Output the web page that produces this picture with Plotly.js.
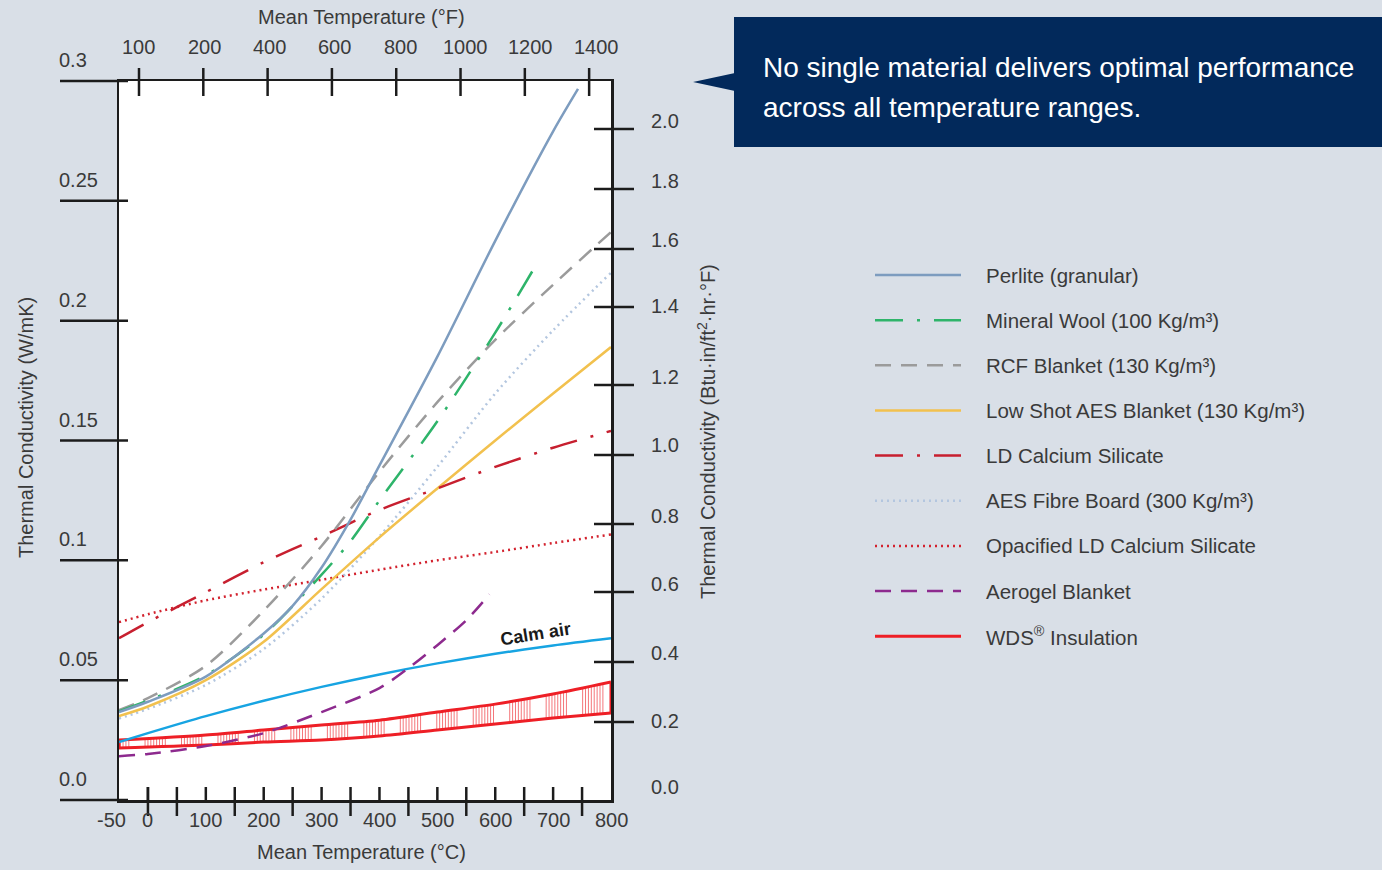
<!DOCTYPE html>
<html><head><meta charset="utf-8">
<script src="https://cdn.plot.ly/plotly-3.0.1.min.js"></script>
<style>html,body{margin:0;padding:0;background:#d9dfe7;} #chart{width:1382px;height:870px;}</style>
</head><body><div id="chart"></div>
<script>
// ---------------- DATA ----------------
const perliteT = [-50, 0, 100, 200, 250, 300, 350, 400, 500, 600, 700, 743];
const perliteK = [0.0367, 0.041, 0.0515, 0.0695, 0.081, 0.097, 0.117, 0.1396, 0.185, 0.2333, 0.279, 0.2967];

const mineralT = [-50, 0, 100, 200, 300, 350, 400, 500, 600, 665];
const mineralK = [0.037, 0.0415, 0.052, 0.069, 0.094, 0.108, 0.125, 0.158, 0.195, 0.221];

const rcfT = [-50, 0, 100, 200, 300, 400, 500, 600, 700, 800];
const rcfK = [0.0375, 0.0425, 0.056, 0.079, 0.106, 0.137, 0.166, 0.192, 0.215, 0.237];

const lowShotT = [-50, 0, 100, 200, 300, 400, 500, 600, 700, 800];
const lowShotK = [0.035, 0.039, 0.05, 0.066, 0.088, 0.1096, 0.13, 0.15, 0.1696, 0.189];

const ldCaSiT = [-50, 0, 100, 200, 300, 400, 500, 600, 700, 800];
const ldCaSiK = [0.0675, 0.0742, 0.0867, 0.0992, 0.110, 0.121, 0.130, 0.139, 0.147, 0.154];

const aesBoardT = [-50, 0, 100, 200, 300, 400, 500, 600, 700, 800];
const aesBoardK = [0.034, 0.038, 0.048, 0.063, 0.084, 0.110, 0.139, 0.1696, 0.196, 0.22];

const opacT = [-50, 0, 100, 200, 300, 400, 500, 600, 700, 800];
const opacK = [0.0742, 0.0775, 0.0833, 0.0878, 0.0919, 0.0961, 0.1000, 0.1035, 0.1072, 0.1108];

const aerogelT = [-50, 0, 100, 200, 300, 400, 450, 500, 550, 590];
const aerogelK = [0.0183, 0.0192, 0.0225, 0.0279, 0.0367, 0.0467, 0.055, 0.0646, 0.075, 0.0858];

const calmAirT = [-50, 0, 100, 200, 300, 400, 500, 600, 700, 800];
const calmAirK = [0.0242, 0.0279, 0.0350, 0.0414, 0.0472, 0.0524, 0.0570, 0.0610, 0.0645, 0.0675];

const wdsT = [-50, 100, 200, 300, 400, 500, 600, 700, 800];
const wdsUpper = [0.025, 0.0271, 0.0292, 0.0313, 0.0333, 0.0367, 0.040, 0.0442, 0.0492];
const wdsLower = [0.0217, 0.0229, 0.0242, 0.025, 0.0267, 0.0292, 0.0317, 0.0342, 0.0363];

const seriesNames = ['Perlite (granular)', 'Mineral Wool (100 Kg/m³)', 'RCF Blanket (130 Kg/m³)',
  'Low Shot AES Blanket (130 Kg/m³)', 'LD Calcium Silicate', 'AES Fibre Board (300 Kg/m³)',
  'Opacified LD Calcium Silicate', 'Aerogel Blanket', 'WDS<sup>®</sup> Insulation'];

const wmkTicks = [0, 0.05, 0.1, 0.15, 0.2, 0.25, 0.3];
const wmkLabels = ['0.0', '0.05', '0.1', '0.15', '0.2', '0.25', '0.3'];
const celsiusTicks = [-50, 0, 100, 200, 300, 400, 500, 600, 700, 800];
const fahrenheitLabels = ['100', '200', '400', '600', '800', '1000', '1200', '1400'];
const btuLabels = ['2.0', '1.8', '1.6', '1.4', '1.2', '1.0', '0.8', '0.6', '0.4', '0.2', '0.0'];
// the printed Btu scale is not linear: its ticks and labels, expressed on the W/mK axis
const btuTickPos = [0.2800, 0.2549, 0.2299, 0.2057, 0.1732, 0.1439, 0.1152, 0.0868, 0.0576, 0.0325];
const btuLabelPos = [0.2833, 0.2583, 0.2337, 0.2061, 0.1765, 0.1481, 0.1185, 0.0901, 0.0613, 0.0330, 0.0054];

const calloutLines = ['No single material delivers optimal performance', 'across all temperature ranges.'];

// ---------------- LAYOUT GEOMETRY ----------------
const W = 1382, H = 870, L = 119, R = 611, TOP = 81, BOT = 800;
const PW = R - L, PH = BOT - TOP;
const px2x = p => (p - L) / PW;
const px2y = p => (BOT - p) / PH;
const X_RANGE = [-50, 800], Y_RANGE = [0, 0.3];
const F_RANGE = [-0.311, 7.34]; // top (°F) scale, one step per printed label
const fIdx2paper = i => (i - F_RANGE[0]) / (F_RANGE[1] - F_RANGE[0]);
const y2paper = v => (v - Y_RANGE[0]) / (Y_RANGE[1] - Y_RANGE[0]);

const INK = '#1c1c1c', TXT = '#3a3a3a';
const FONT = 'Liberation Sans, Arial, sans-serif';

const styles = [
  {color: '#7d9cbf', dash: 'solid', width: 2.5},
  {color: '#2eb46a', dash: '28px,14px,3px,14px', width: 2.5},
  {color: '#9b9b9b', dash: '16px,10px', width: 2.5},
  {color: '#f2c14e', dash: 'solid', width: 2.5},
  {color: '#c71f2f', dash: '28px,14px,3px,14px', width: 2.5},
  {color: '#b3c6df', dash: '2px,4px', width: 2.5},
  {color: '#d3222e', dash: '2px,4px', width: 2.5},
  {color: '#8d2a8e', dash: '16px,10px', width: 2.5},
  {color: '#ee1f26', dash: 'solid', width: 3}
];

function lineTrace(x, y, st) {
  return {type: 'scatter', mode: 'lines', x: x, y: y, hoverinfo: 'skip', showlegend: false,
    line: {color: st.color, dash: st.dash, width: st.width, shape: 'spline', smoothing: 0.8}};
}

// hatching inside WDS band
function interp(xs, ys, t) {
  for (let i = 0; i < xs.length - 1; i++) {
    if (t >= xs[i] && t <= xs[i + 1]) {
      const f = (t - xs[i]) / (xs[i + 1] - xs[i]);
      return ys[i] + f * (ys[i + 1] - ys[i]);
    }
  }
  return null;
}
const hx = [], hy = [];
for (let g = -68; g < 800; g += 63) {
  for (let t = g; t <= g + 38; t += 5) {
    if (t <= -50 || t >= 800) continue;
    hx.push(t, t, null);
    hy.push(interp(wdsT, wdsLower, t), interp(wdsT, wdsUpper, t), null);
  }
}
const nW = wdsT.length - 1;

const traces = [
  {type: 'scatter', mode: 'lines', x: hx, y: hy, hoverinfo: 'skip', showlegend: false,
    line: {color: 'rgba(240,60,66,0.7)', width: 1}},
  lineTrace(wdsT, wdsUpper, styles[8]),
  lineTrace(wdsT, wdsLower, styles[8]),
  {type: 'scatter', mode: 'lines', hoverinfo: 'skip', showlegend: false,
    x: [wdsT[0], wdsT[0], null, wdsT[nW], wdsT[nW]],
    y: [wdsLower[0], wdsUpper[0], null, wdsLower[nW], wdsUpper[nW]],
    line: {color: styles[8].color, width: 3}},
  lineTrace(calmAirT, calmAirK, {color: '#17a4e2', dash: 'solid', width: 2.5}),
  lineTrace(aerogelT, aerogelK, styles[7]),
  lineTrace(opacT, opacK, styles[6]),
  lineTrace(aesBoardT, aesBoardK, styles[5]),
  lineTrace(lowShotT, lowShotK, styles[3]),
  lineTrace(ldCaSiT, ldCaSiK, styles[4]),
  lineTrace(rcfT, rcfK, styles[2]),
  lineTrace(mineralT, mineralK, styles[1]),
  lineTrace(perliteT, perliteK, styles[0])
];

// ---------------- SHAPES ----------------
const shapes = [];
const tickLine = {color: INK, width: 2.5};
// callout box
shapes.push({type: 'rect', xref: 'paper', yref: 'paper', x0: px2x(734), x1: px2x(1400), y0: px2y(147), y1: px2y(17),
  fillcolor: '#02295b', line: {width: 0}, layer: 'above'});
shapes.push({type: 'path', xref: 'paper', yref: 'paper', fillcolor: '#02295b', line: {width: 0},
  path: 'M' + px2x(735) + ',' + px2y(73) + ' L' + px2x(693) + ',' + px2y(82) + ' L' + px2x(735) + ',' + px2y(91) + ' Z'});
// left ticks (extend outside)
wmkTicks.forEach(v => shapes.push({type: 'line', xref: 'paper', yref: 'paper',
  x0: px2x(60), x1: px2x(128), y0: y2paper(v), y1: y2paper(v), line: tickLine}));
// bottom ticks
celsiusTicks.forEach(t => {
  if (t > -50 && t < 800) shapes.push({type: 'line', xref: 'x', yref: 'paper', x0: t, x1: t,
    y0: 0, y1: 13 / PH, line: tickLine});
  const m = t + 50;
  if (m < 800) shapes.push({type: 'line', xref: 'x', yref: 'paper', x0: m, x1: m,
    y0: -16 / PH, y1: 13 / PH, line: tickLine});
});
// top ticks
fahrenheitLabels.forEach((lab, i) => shapes.push({type: 'line', xref: 'paper', yref: 'paper',
  x0: fIdx2paper(i), x1: fIdx2paper(i), y0: px2y(96), y1: px2y(68), line: tickLine}));
// right ticks
btuTickPos.forEach(p => shapes.push({type: 'line', xref: 'paper', yref: 'y',
  x0: px2x(594), x1: px2x(634), y0: p, y1: p, line: tickLine}));
// legend samples
const legY = i => 275 + 45.15 * i;
seriesNames.forEach((n, i) => shapes.push({type: 'line', xref: 'paper', yref: 'paper',
  x0: px2x(875), x1: px2x(961), y0: px2y(legY(i)), y1: px2y(legY(i)),
  line: {color: styles[i].color, dash: styles[i].dash, width: styles[i].width}}));

// ---------------- ANNOTATIONS ----------------
const ann = [];
const tf = {family: FONT, size: 20, color: TXT};
wmkTicks.forEach((v, i) => ann.push({xref: 'paper', yref: 'paper', x: px2x(57), y: y2paper(v), yshift: 21,
  xanchor: 'left', yanchor: 'middle', text: wmkLabels[i], showarrow: false, font: tf}));
celsiusTicks.forEach((t, i) => ann.push({xref: 'x', yref: 'paper', x: t, y: px2y(820), xshift: i === 0 ? -8 : 0,
  xanchor: 'center', yanchor: 'middle', text: String(t), showarrow: false, font: tf}));
fahrenheitLabels.forEach((lab, i) => ann.push({xref: 'paper', yref: 'paper', x: fIdx2paper(i), y: px2y(47), xshift: i,
  xanchor: 'center', yanchor: 'middle', text: lab, showarrow: false, font: tf}));
btuLabels.forEach((lab, i) => ann.push({xref: 'paper', yref: 'y', x: px2x(649), y: btuLabelPos[i],
  xanchor: 'left', yanchor: 'middle', text: lab, showarrow: false, font: tf}));
// axis titles
ann.push({xref: 'paper', yref: 'paper', x: px2x(361), y: px2y(17), text: 'Mean Temperature (°F)', showarrow: false, font: tf, xanchor: 'center', yanchor: 'middle'});
ann.push({xref: 'paper', yref: 'paper', x: px2x(361), y: px2y(852), text: 'Mean Temperature (°C)', showarrow: false, font: tf, xanchor: 'center', yanchor: 'middle'});
ann.push({xref: 'paper', yref: 'paper', x: px2x(26), y: px2y(428), text: 'Thermal Conductivity (W/mK)', textangle: -90, showarrow: false, font: tf, xanchor: 'center', yanchor: 'middle'});
ann.push({xref: 'paper', yref: 'paper', x: px2x(706), y: px2y(432), text: 'Thermal Conductivity (Btu·in/ft<sup>2</sup>·hr·°F)', textangle: -90, showarrow: false, font: tf, xanchor: 'center', yanchor: 'middle'});
// calm air label
ann.push({xref: 'x', yref: 'y', x: 669, y: 0.0693, text: '<b>Calm air</b>', textangle: -9, showarrow: false,
  font: {family: FONT, size: 18, color: '#1a1a1a'}, xanchor: 'center', yanchor: 'middle'});
// legend labels
seriesNames.forEach((n, i) => ann.push({xref: 'paper', yref: 'paper', x: px2x(984), y: px2y(legY(i)),
  xanchor: 'left', yanchor: 'middle', text: n, showarrow: false, font: {family: FONT, size: 20.5, color: TXT}}));
// callout
calloutLines.forEach((s, i) => ann.push({xref: 'paper', yref: 'paper', x: px2x(761), y: px2y(68 + 39 * i),
  xanchor: 'left', yanchor: 'middle', align: 'left', text: s, showarrow: false,
  font: {family: FONT, size: 28, color: '#ffffff'}}));

const layout = {
  width: W, height: H,
  margin: {l: L, r: W - R, t: TOP, b: H - BOT, pad: 0},
  paper_bgcolor: '#d9dfe7', plot_bgcolor: '#ffffff',
  font: {family: FONT, color: TXT},
  showlegend: false,
  xaxis: {range: X_RANGE, showgrid: false, zeroline: false, showticklabels: false, ticks: '',
    showline: true, mirror: true, linecolor: INK, linewidth: 2.5, fixedrange: true},
  yaxis: {range: Y_RANGE, showgrid: false, zeroline: false, showticklabels: false, ticks: '',
    showline: true, mirror: true, linecolor: INK, linewidth: 2.5, fixedrange: true},
  shapes: shapes,
  annotations: ann
};

Plotly.newPlot('chart', traces, layout, {staticPlot: true, displayModeBar: false});
</script></body></html>
